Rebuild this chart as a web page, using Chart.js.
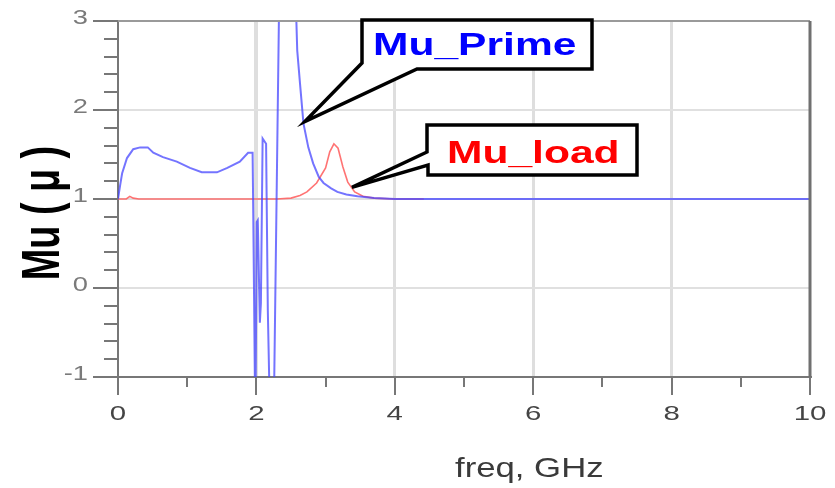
<!DOCTYPE html>
<html>
<head>
<meta charset="utf-8">
<title>Mu vs freq</title>
<script src="https://cdn.jsdelivr.net/npm/chart.js@4.4.1/dist/chart.umd.min.js"></script>
<style>
    html, body { margin: 0; padding: 0; background: #fff; }
    #wrap { width: 835px; height: 488px; }
</style>
</head>
<body>
<div id="wrap"><canvas id="muChart" width="835" height="488"></canvas></div>
<script>
// values (freq in GHz)
const primeFreq = [0, 0.03, 0.06, 0.13, 0.22, 0.32, 0.43, 0.51, 0.65, 0.85, 1.04, 1.21, 1.43, 1.58, 1.76, 1.88, 1.945,
    1.955, 1.985, 2.005, 2.02, 2.05, 2.065, 2.09, 2.14, 2.165, 2.2, 2.25, 2.33, 2.45, 2.57,
    2.59, 2.63, 2.68, 2.75, 2.82, 2.9, 2.97, 3.08, 3.17, 3.3, 3.46, 3.7, 4.0, 5, 6, 7, 8, 9, 10];
const primeMu = [1.0, 1.15, 1.29, 1.46, 1.56, 1.58, 1.58, 1.52, 1.47, 1.42, 1.35, 1.30, 1.30, 1.35, 1.42, 1.52, 1.52,
    0.80, -1.6, 0.74, 0.76, -0.39, -0.17, 1.68, 1.62, -0.25, -1.6, -1.5, 3.3, 8.0, 3.2,
    2.67, 2.30, 1.85, 1.58, 1.40, 1.25, 1.18, 1.12, 1.08, 1.05, 1.03, 1.01, 1.0, 1.0, 1.0, 1.0, 1.0, 1.0, 1.0];

const loadFreq = [0, 0.12, 0.17, 0.22, 0.3, 1.0, 2.0, 2.3, 2.5, 2.63, 2.73, 2.87, 3.0, 3.06, 3.12, 3.18, 3.25, 3.32, 3.42, 3.54, 3.7, 4.0, 4.42];
const loadMu = [1.0, 1.0, 1.03, 1.01, 1.0, 1.0, 1.0, 1.0, 1.01, 1.04, 1.08, 1.18, 1.35, 1.53, 1.62, 1.57, 1.36, 1.19, 1.08, 1.03, 1.01, 1.0, 1.0];

const xTicks = [0, 2, 4, 6, 8, 10];
const yTicks = [-1, 0, 1, 2, 3];
const xGrid = [2, 4, 6, 8];
const yGrid = [0, 1, 2];

const FONT = "'Liberation Sans', Arial, sans-serif";

function toPoints(xs, ys) {
    return xs.map(function (x, i) { return { x: x, y: ys[i] }; });
}

// draw text squeezed or stretched along its baseline
function wideText(ctx, text, x, y, sx, align, baseline) {
    ctx.save();
    ctx.translate(x, y);
    ctx.scale(sx, 1);
    ctx.textAlign = align;
    ctx.textBaseline = baseline || 'alphabetic';
    ctx.fillText(text, 0, 0);
    ctx.restore();
}

function callout(ctx, pts, text, color, tx, ty) {
    ctx.save();
    ctx.beginPath();
    ctx.moveTo(pts[0][0], pts[0][1]);
    for (let i = 1; i < pts.length; i++) ctx.lineTo(pts[i][0], pts[i][1]);
    ctx.closePath();
    ctx.fillStyle = '#fff';
    ctx.fill();
    ctx.lineWidth = 3.5;
    ctx.lineJoin = 'miter';
    ctx.strokeStyle = '#000';
    ctx.stroke();
    ctx.fillStyle = color;
    ctx.font = 'bold 32px ' + FONT;
    wideText(ctx, text, tx, ty, 1.33, 'left');
    ctx.restore();
}

const axisDecor = {
    id: 'axisDecor',
    afterDraw(chart) {
        const ctx = chart.ctx;
        const xs = chart.scales.x;
        const ys = chart.scales.y;
        const a = chart.chartArea;

        ctx.save();
        // top + right frame
        ctx.strokeStyle = '#9a9a9a';
        ctx.lineWidth = 2;
        ctx.beginPath();
        ctx.moveTo(a.left, a.top);
        ctx.lineTo(a.right, a.top);
        ctx.stroke();
        ctx.strokeStyle = '#707070';
        ctx.lineWidth = 3;
        ctx.beginPath();
        ctx.moveTo(a.right, a.top);
        ctx.lineTo(a.right, a.bottom);
        ctx.stroke();

        // y tick marks, minor every 0.2
        ctx.strokeStyle = '#777';
        ctx.lineWidth = 2;
        for (let k = 0; k <= 20; k++) {
            const v = -1 + k * 0.2;
            const py = Math.round(ys.getPixelForValue(v));
            const len = (k % 5 === 0) ? 25 : 14;
            ctx.beginPath();
            ctx.moveTo(a.left - len, py);
            ctx.lineTo(a.left, py);
            ctx.stroke();
        }
        // x tick marks, minor every 1
        for (let v = 0; v <= 10; v++) {
            const px = Math.round(xs.getPixelForValue(v));
            const len = (v % 2 === 0) ? 18 : 10;
            ctx.beginPath();
            ctx.moveTo(px, a.bottom);
            ctx.lineTo(px, a.bottom + len);
            ctx.stroke();
        }

        // tick labels
        ctx.font = '21px ' + FONT;
        ctx.fillStyle = '#7a7a7a';
        yTicks.forEach(function (v) {
            wideText(ctx, String(v), 88, ys.getPixelForValue(v) - 3, 1.3, 'right', 'middle');
        });
        ctx.fillStyle = '#444';
        xTicks.forEach(function (v) {
            wideText(ctx, String(v), xs.getPixelForValue(v), a.bottom + 37, 1.4, 'center', 'middle');
        });

        // axis titles
        ctx.fillStyle = '#3a3a3a';
        ctx.font = '28px ' + FONT;
        wideText(ctx, 'freq, GHz', 455, 477, 1.24, 'left');

        ctx.save();
        ctx.translate(59, 213);
        ctx.rotate(-Math.PI / 2);
        ctx.scale(0.7, 1);
        ctx.fillStyle = '#000';
        ctx.font = 'bold 54px ' + FONT;
        ctx.textAlign = 'center';
        ctx.textBaseline = 'alphabetic';
        ctx.fillText('Mu ( \u03BC )', 0, 0);
        ctx.restore();

        // callouts, tips sit on the curves
        const tipP = [xs.getPixelForValue(2.70), ys.getPixelForValue(1.87)];
        callout(ctx, [[362, 20], [592, 20], [592, 69], [417, 69], tipP, [362, 63]],
            'Mu_Prime', '#0000ff', 373, 55);
        const tipL = [xs.getPixelForValue(3.38), ys.getPixelForValue(1.13)];
        callout(ctx, [[427, 125], [637, 125], [637, 175], [428, 175], [428, 165], tipL, [427, 152]],
            'Mu_load', '#ff0000', 447, 163);
        ctx.restore();
    }
};

function initChart() {
    const el = document.getElementById('muChart');
    new Chart(el, {
        type: 'line',
        data: {
            datasets: [{
                label: 'Mu_Prime',
                data: toPoints(primeFreq, primeMu),
                borderColor: 'rgba(70, 70, 255, 0.75)',
                borderWidth: 2,
                pointRadius: 0,
                tension: 0
            }, {
                label: 'Mu_load',
                data: toPoints(loadFreq, loadMu),
                borderColor: 'rgba(255, 90, 90, 0.85)',
                borderWidth: 1.6,
                pointRadius: 0,
                tension: 0
            }]
        },
        options: {
            responsive: false,
            animation: false,
            devicePixelRatio: 1,
            layout: { padding: { left: 118, top: 21, right: 25, bottom: 111 } },
            plugins: {
                legend: { display: false },
                tooltip: { enabled: false }
            },
            scales: {
                x: {
                    type: 'linear', min: 0, max: 10,
                    ticks: { display: false, stepSize: 1 },
                    grid: {
                        drawTicks: false,
                        color: function (c) { return xGrid.indexOf(c.tick.value) >= 0 ? '#dedede' : 'rgba(0,0,0,0)'; },
                        lineWidth: function (c) { return c.tick.value === 2 ? 4 : 3; }
                    },
                    border: { color: '#777', width: 2 }
                },
                y: {
                    type: 'linear', min: -1, max: 3,
                    ticks: { display: false, stepSize: 1 },
                    grid: {
                        drawTicks: false,
                        color: function (c) { return yGrid.indexOf(c.tick.value) >= 0 ? '#e0e0e0' : 'rgba(0,0,0,0)'; },
                        lineWidth: 2
                    },
                    border: { color: '#777', width: 2 }
                }
            }
        },
        plugins: [axisDecor]
    });
}

initChart();
</script>
</body>
</html>
